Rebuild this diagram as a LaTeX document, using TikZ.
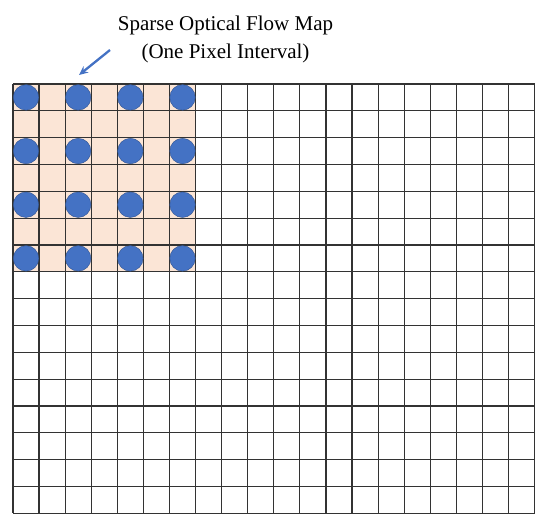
\documentclass[tikz,border=0pt]{standalone}
\usepackage{fontspec}
\setmainfont{Liberation Serif}
\usepackage{xcolor}
\usetikzlibrary{arrows.meta,positioning}

\definecolor{flowblue}{HTML}{4472C4}
\definecolor{flowedge}{HTML}{2F528F}
\definecolor{cellfill}{HTML}{FBE5D6}

\begin{document}
\begin{tikzpicture}[
    x=1pt, y=-1pt,
    gridline/.style={draw=black!80, line width=1.2pt},
    flowdot/.style={circle, fill=flowblue, draw=flowedge, line width=0.4pt, minimum size=25.5pt, inner sep=0pt},
    caption/.style={align=center, font=\fontsize{21}{28}\selectfont},
    arrow/.style={-{Stealth[length=9pt, width=8pt]}, line width=2.3pt, draw=flowblue, fill=flowblue}
]
\useasboundingbox (0,0) rectangle (550,530);

% shaded block of the map
\fill[cellfill] (13,84) rectangle (195.6,271.8);

% pixel grid, 20 x 16
\foreach \i in {0,...,20}
    \draw[gridline] (13+\i*26.08,84) -- (13+\i*26.08,513.3);
\foreach \j in {0,...,16}
    \draw[gridline] (13,84+\j*26.83) -- (534.6,84+\j*26.83);

% sampled flow points
\foreach \i in {0,...,3}
    \foreach \j in {0,...,3}
        \node[flowdot] (dot-\i-\j) at (13+2*\i*26.08+13.04, 84+2*\j*26.83+13.4) {};

\node[caption] (title) at (225.5,39) {Sparse Optical Flow Map\\(One Pixel Interval)};
\coordinate (tail) at (110,50);
\coordinate (tip) at (79,75);
\draw[arrow] (tail) -- (tip);
\end{tikzpicture}
\end{document}
